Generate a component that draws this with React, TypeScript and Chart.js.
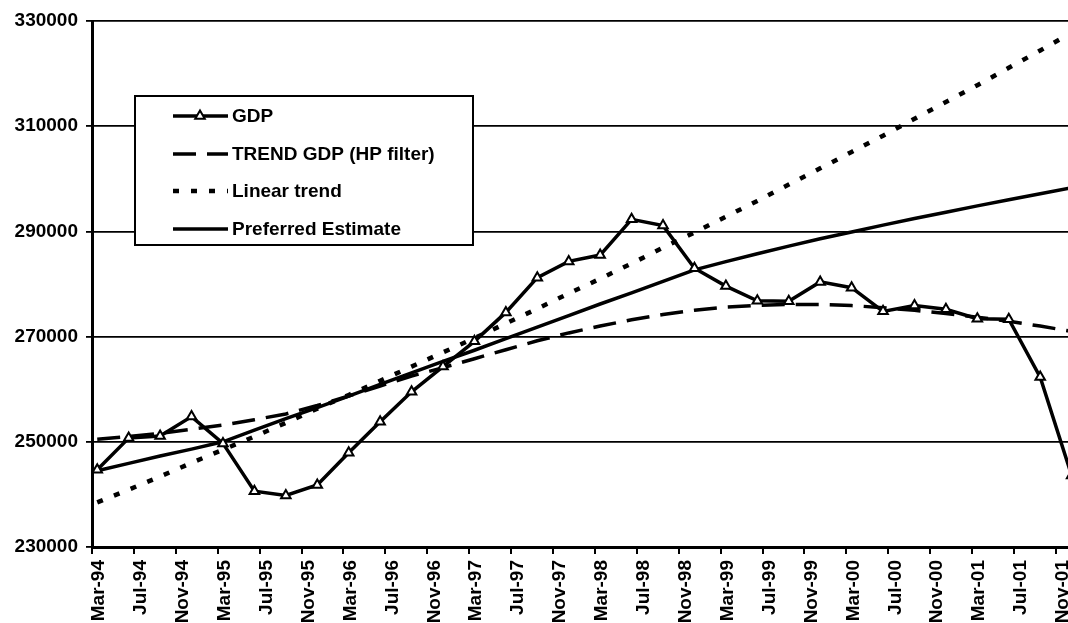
import React, { useEffect, useRef } from 'react';
import { Chart, registerables } from 'chart.js';

Chart.register(...registerables);

// Quarterly observation labels
const QUARTERS = [
  'Mar-94', 'Jun-94', 'Sep-94', 'Dec-94',
  'Mar-95', 'Jun-95', 'Sep-95', 'Dec-95',
  'Mar-96', 'Jun-96', 'Sep-96', 'Dec-96',
  'Mar-97', 'Jun-97', 'Sep-97', 'Dec-97',
  'Mar-98', 'Jun-98', 'Sep-98', 'Dec-98',
  'Mar-99', 'Jun-99', 'Sep-99', 'Dec-99',
  'Mar-00', 'Jun-00', 'Sep-00', 'Dec-00',
  'Mar-01', 'Jun-01', 'Sep-01', 'Dec-01',
];

const GDP = [
  244700, 250700, 251100, 254800,
  249700, 240600, 239800, 241800,
  247900, 253800, 259500, 264300,
  269100, 274600, 281200, 284300,
  285500, 292300, 291100, 283000,
  279600, 276800, 276700, 280400,
  279300, 274800, 275900, 275200,
  273400, 273300, 262300, 243600,
];

const HP_TREND = [
  250500, 251000, 251600, 252400,
  253200, 254200, 255300, 256900,
  258700, 260600, 262500, 264100,
  265800, 267500, 269200, 270700,
  272000, 273200, 274200, 275000,
  275600, 275950, 276100, 276100,
  275900, 275500, 275000, 274400,
  273700, 272900, 272000, 271000,
];

const LINEAR_TREND = [
  238500, 240900, 243400, 246000,
  248500, 251000, 253600, 256300,
  258900, 261600, 264300, 267000,
  269700, 272500, 275300, 278200,
  281000, 283900, 286900, 289800,
  292800, 295800, 298900, 302000,
  305100, 308200, 311400, 314600,
  317800, 321100, 324400, 327800,
];

const PREFERRED = [
  244500, 245900, 247300, 248600,
  250000, 252200, 254400, 256500,
  258700, 260900, 263100, 265300,
  267400, 269600, 271800, 274000,
  276200, 278300, 280500, 282700,
  284250, 285750, 287200, 288600,
  289900, 291200, 292450, 293650,
  294850, 296000, 297150, 298300,
];

// X-axis tick labels (every 4 months)
const TICK_LABELS = [
  'Mar-94', 'Jul-94', 'Nov-94',
  'Mar-95', 'Jul-95', 'Nov-95',
  'Mar-96', 'Jul-96', 'Nov-96',
  'Mar-97', 'Jul-97', 'Nov-97',
  'Mar-98', 'Jul-98', 'Nov-98',
  'Mar-99', 'Jul-99', 'Nov-99',
  'Mar-00', 'Jul-00', 'Nov-00',
  'Mar-01', 'Jul-01', 'Nov-01',
];

const SERIES_NAMES = ['GDP', 'TREND GDP (HP filter)', 'Linear trend', 'Preferred Estimate'];

const Y_MIN = 230000;
const Y_MAX = 330000;
const Y_STEP = 20000;

const MONTHS = ['Jan', 'Feb', 'Mar', 'Apr', 'May', 'Jun', 'Jul', 'Aug', 'Sep', 'Oct', 'Nov', 'Dec'];

// months elapsed since Jan-94
function monthIndex(label: string): number {
  const [m, y] = label.split('-');
  const yy = parseInt(y, 10);
  const year = yy < 50 ? 100 + yy : yy;
  return (year - 94) * 12 + MONTHS.indexOf(m);
}

// observations dated mid-month
const toPoints = (vals: number[]) =>
  vals.map((v, i) => ({ x: monthIndex(QUARTERS[i]) + 0.5, y: v }));

const FONT = "'Liberation Sans', Arial, sans-serif";

const legendPlugin = {
  id: 'boxLegend',
  afterDraw(chart: any) {
    const ctx = chart.ctx as CanvasRenderingContext2D;
    ctx.save();
    const x0 = 135, y0 = 96, w = 338, h = 149;
    ctx.fillStyle = '#fff';
    ctx.fillRect(x0, y0, w, h);
    ctx.strokeStyle = '#000';
    ctx.lineWidth = 2;
    ctx.setLineDash([]);
    ctx.strokeRect(x0, y0, w, h);
    const rows = [116, 154, 191, 229];
    ctx.font = `bold 19px ${FONT}`;
    ctx.textBaseline = 'middle';
    ctx.textAlign = 'left';
    chart.data.datasets.forEach((ds: any, i: number) => {
      const y = rows[i];
      ctx.beginPath();
      ctx.setLineDash(ds.borderDash || []);
      ctx.lineWidth = ds.borderWidth;
      ctx.strokeStyle = '#000';
      ctx.moveTo(173, y);
      ctx.lineTo(228, y);
      ctx.stroke();
      ctx.setLineDash([]);
      if (ds.pointStyle === 'triangle') {
        const r = 5.5;
        const cx = 200;
        ctx.beginPath();
        for (let k = 0; k < 3; k++) {
          const a = (k * 2 * Math.PI) / 3;
          const px = cx + Math.sin(a) * r;
          const py = y - Math.cos(a) * r;
          if (k === 0) ctx.moveTo(px, py); else ctx.lineTo(px, py);
        }
        ctx.closePath();
        ctx.fillStyle = '#fff';
        ctx.fill();
        ctx.lineWidth = 2;
        ctx.stroke();
      }
      ctx.fillStyle = '#000';
      ctx.fillText(ds.label, 232, y + 1);
    });
    ctx.restore();
  },
};

export default function App() {
  const canvasRef = useRef<HTMLCanvasElement | null>(null);

  useEffect(() => {
    if (!canvasRef.current) return;
    const chart = new Chart(canvasRef.current, {
      type: 'line',
      data: {
        datasets: [
          {
            label: SERIES_NAMES[0],
            data: toPoints(GDP),
            borderColor: '#000',
            backgroundColor: '#fff',
            borderWidth: 3.5,
            pointStyle: 'triangle',
            pointRadius: 5.5,
            pointBorderWidth: 2,
            pointBorderColor: '#000',
            pointBackgroundColor: '#fff',
            tension: 0,
          },
          {
            label: SERIES_NAMES[1],
            data: toPoints(HP_TREND),
            borderColor: '#000',
            borderWidth: 3.5,
            borderDash: [23, 11],
            pointRadius: 0,
            tension: 0,
          },
          {
            label: SERIES_NAMES[2],
            data: toPoints(LINEAR_TREND),
            borderColor: '#000',
            borderWidth: 4.5,
            borderDash: [6, 12],
            pointRadius: 0,
            tension: 0,
          },
          {
            label: SERIES_NAMES[3],
            data: toPoints(PREFERRED),
            borderColor: '#000',
            borderWidth: 3.5,
            pointRadius: 0,
            tension: 0,
          },
        ] as any,
      },
      options: {
        animation: false,
        responsive: true,
        maintainAspectRatio: false,
        layout: { padding: { top: 21, right: 0, left: 0, bottom: 0 } },
        plugins: {
          legend: { display: false },
          tooltip: { enabled: false },
        },
        scales: {
          x: {
            type: 'linear',
            min: monthIndex('Mar-94'),
            max: 95.2,
            afterBuildTicks: (axis: any) => {
              axis.ticks = TICK_LABELS.map((l) => ({ value: monthIndex(l) }));
            },
            afterFit: (scale: any) => {
              scale.height = 76;
              scale.paddingLeft = 0;
              scale.paddingRight = 0;
            },
            grid: {
              drawOnChartArea: false,
              drawTicks: true,
              tickLength: 7,
              color: '#000',
              lineWidth: 2,
            },
            border: { display: true, color: '#000', width: 3 },
            ticks: {
              autoSkip: false,
              minRotation: 90,
              maxRotation: 90,
              padding: 6,
              labelOffset: 7,
              color: '#000',
              font: { family: FONT, size: 19, weight: 'bold' },
              callback: (_v: any, i: number) => TICK_LABELS[i],
            },
          },
          y: {
            type: 'linear',
            min: Y_MIN,
            max: Y_MAX,
            afterFit: (scale: any) => {
              scale.width = 92;
            },
            grid: {
              color: '#000',
              lineWidth: 1.8,
              tickLength: 6,
              drawTicks: true,
            },
            border: { display: true, color: '#000', width: 3 },
            ticks: {
              stepSize: Y_STEP,
              padding: 8,
              color: '#000',
              font: { family: FONT, size: 19, weight: 'bold' },
              callback: (v: any) => String(v),
            },
          },
        },
      },
      plugins: [legendPlugin],
    });
    return () => chart.destroy();
  }, []);

  return (
    <div
      style={{
        position: 'fixed',
        left: 0,
        top: 0,
        width: 1068,
        height: 623,
        overflow: 'hidden',
        background: '#fff',
      }}
    >
      <div style={{ position: 'relative', width: 1076, height: 623 }}>
        <canvas ref={canvasRef} />
      </div>
    </div>
  );
}
